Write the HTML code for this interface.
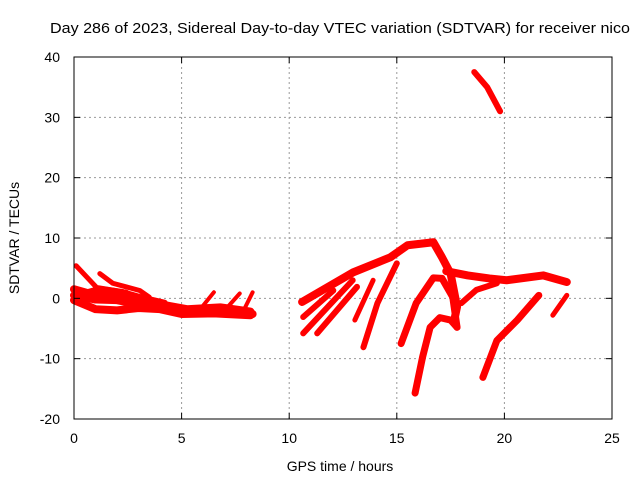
<!DOCTYPE html>
<html><head><meta charset="utf-8"><style>
body{margin:0;background:#fff;width:640px;height:480px;overflow:hidden}
text{font-family:"Liberation Sans",sans-serif;fill:#000}
</style></head><body>
<svg id="chart" width="640" height="480" xmlns="http://www.w3.org/2000/svg">
<text x="50" y="33" font-size="15" textLength="580" lengthAdjust="spacingAndGlyphs">Day 286 of 2023, Sidereal Day-to-day VTEC variation (SDTVAR) for receiver nico</text>
<text x="340" y="471" font-size="14" text-anchor="middle">GPS time / hours</text>
<text x="19" y="238" font-size="14" text-anchor="middle" transform="rotate(-90 19 238)">SDTVAR / TECUs</text>
<g id="grid"></g><g id="marks"></g><g id="axes"></g>
</svg>
<script>
const xTicks=[0,5,10,15,20,25];
const yTicks=[-20,-10,0,10,20,30,40];
const trackNames=['left-band-a','left-band-b','left-band-c','left-strand-1','left-strand-2','left-rise-1','left-rise-2','left-rise-3','arc-main','arc-tail','arc-recover','arc-c','arc-d','arc-e','arc-f','fan-1','fan-2','fan-3','fan-4','fan-5','top-segment','left-band-d'];
const trackHours=[
[0,0.9,2,3,4,5.25,6.8,8.2],
[0,1,2,3,4,5,6.5,8.2],
[0,1,2,3,4,5.2,6.8,8.3],
[0.1,0.6,1.05,2.45],
[1.2,1.8,3.05,3.5],
[6.0,6.5],[7.1,7.7],[7.8,8.3],
[10.6,12.97,14.7,15.5,16.7,17.1,17.5,17.8,17.7],
[17.3,18.3,19.3,20.1,21.8,22.9],
[18.0,18.7,19.65],
[15.2,15.9,16.7,17.1,17.6,17.8],
[15.85,16.2,16.55,17.0,17.5,17.8],
[19.0,19.65,20.6,21.6],
[22.25,22.9],
[10.65,12.95],[11.3,13.15],[13.45,14.1,15.0],[13.05,13.9],[10.65,12.05],
[18.6,19.2,19.8],
[0.5,1.2,2.2,3.2,4.2]];
const trackValues=[
[1.5,0.6,0.3,-0.5,-1.0,-1.8,-1.5,-2.2],
[-0.3,-1.8,-2.0,-1.6,-1.8,-2.6,-2.5,-2.8],
[0.5,-0.2,-0.3,-1.0,-1.5,-2.2,-2.2,-2.6],
[5.4,3.5,1.8,1.0],
[4.1,2.5,1.3,0.2],
[-1.2,1.0],[-1.6,0.8],[-2.6,1.0],
[-0.6,4.3,6.8,8.8,9.3,6.8,4.1,-1.4,-3.1],
[4.5,3.8,3.3,3.0,3.8,2.7],
[-0.8,1.4,2.5],
[-7.5,-0.8,3.4,3.3,0.2,-4.8],
[-15.7,-9.7,-4.8,-3.2,-3.6,-4.8],
[-13.1,-7.0,-3.6,0.5],
[-2.8,0.5],
[-5.8,3.0],[-5.8,1.9],[-8.1,-0.8,5.8],[-3.6,3.0],[-3.1,1.3],
[37.5,35,31],
[0.8,1.5,1.0,0.0,-0.8]];
const trackWidths=[8,8,8,5,5,4,4,4,8,8,6,7,7,7,5,6,6,6,5,6,6,7];
const X0=74,X1=612,Y0=419,Y1=57;
const xs=h=>X0+(h-0)/(25-0)*(X1-X0);
const ys=v=>Y0-(v+20)/60*(Y0-Y1);
const NS='http://www.w3.org/2000/svg';
const mk=(t,a)=>{const e=document.createElementNS(NS,t);for(const k in a)e.setAttribute(k,a[k]);return e;};
const grid=document.getElementById('grid'),axes=document.getElementById('axes'),marks=document.getElementById('marks');
xTicks.forEach(t=>{
 if(t>0&&t<25){const g=mk('line',{x1:xs(t),x2:xs(t),y1:Y1,y2:Y0,stroke:'#999','stroke-dasharray':'2,3'});
 
 
 grid.appendChild(g);}
 const l=mk('text',{x:xs(t),y:Y0+24,'font-size':14,'text-anchor':'middle'});l.textContent=t;
 
 
 axes.appendChild(l);
 axes.appendChild(mk('line',{x1:xs(t),x2:xs(t),y1:Y0,y2:Y0-6,stroke:'#000'}));
 axes.appendChild(mk('line',{x1:xs(t),x2:xs(t),y1:Y1,y2:Y1+6,stroke:'#000'}));
});
yTicks.forEach(t=>{
 if(t>-20&&t<40){const g=mk('line',{x1:X0,x2:X1,y1:ys(t),y2:ys(t),stroke:'#999','stroke-dasharray':'2,3'});
 
 
 grid.appendChild(g);}
 const l=mk('text',{x:X0-14,y:ys(t)+5,'font-size':14,'text-anchor':'end'});l.textContent=t;
 
 
 axes.appendChild(l);
 axes.appendChild(mk('line',{x1:X0,x2:X0+6,y1:ys(t),y2:ys(t),stroke:'#000'}));
 axes.appendChild(mk('line',{x1:X1,x2:X1-6,y1:ys(t),y2:ys(t),stroke:'#000'}));
});
const fr=mk('rect',{x:X0,y:Y1,width:X1-X0,height:Y0-Y1,fill:'none',stroke:'#000'});


axes.appendChild(fr);
trackHours.forEach((hs,i)=>{
 const pts=hs.map((h,j)=>xs(h)+','+ys(trackValues[i][j])).join(' ');
 const p=mk('polyline',{points:pts,fill:'none',stroke:'#f00','stroke-width':trackWidths[i],'stroke-linejoin':'round','stroke-linecap':'round'});
 
 
 marks.appendChild(p);
});
</script>
</body></html>
